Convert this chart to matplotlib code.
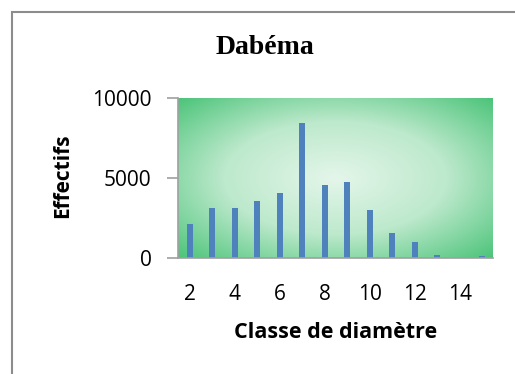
import numpy as np
import matplotlib.pyplot as plt
from matplotlib.colors import LinearSegmentedColormap
from matplotlib.patches import Rectangle

classes = [2, 3, 4, 5, 6, 7, 8, 9, 10, 11, 12, 13, 14, 15]
effectifs = [2120, 3100, 3100, 3560, 4040, 8460, 4540, 4770, 3000, 1560, 1000, 200, 0, 120]
xticks = [2, 4, 6, 8, 10, 12, 14]
yticks = [0, 5000, 10000]

W, H = 515, 374
fig = plt.figure(figsize=(W / 100, H / 100), dpi=100)
fig.patch.set_facecolor('white')

# outer chart border (only top/left visible in the crop)
fig.add_artist(Rectangle((12 / W, -0.1), 1.2, 1 - 12 / H + 0.1, transform=fig.transFigure,
                         fill=False, edgecolor='#8c8c8c', linewidth=1.5))

ax = fig.add_axes([178 / W, 1 - 258 / H, (493 - 178) / W, (258 - 98) / H])

# radial gradient background
gx, gy = np.meshgrid(np.linspace(-1, 1, 300), np.linspace(-1, 1, 200))
r = np.sqrt(gx ** 2 + gy ** 2) / np.sqrt(2)
cmap = LinearSegmentedColormap.from_list('g', ['#e4f6ea', '#bde9cc', '#4cc47a'])
ax.imshow(r, cmap=cmap, extent=[0, 1, 0, 1], transform=ax.transAxes,
          aspect='auto', zorder=0, vmin=0, vmax=1)

ax.bar(classes, effectifs, width=0.27, color='#4f81bd', zorder=2)

ax.set_xlim(1.47, 15.47)
ax.set_ylim(0, 10000)
ax.set_xticks(xticks)
ax.set_yticks(yticks)

for s in ['top', 'right']:
    ax.spines[s].set_visible(False)
ax.spines['left'].set_color('#a0a0a0')
ax.spines['bottom'].set_color('#a0a0a0')
ax.spines['left'].set_linewidth(1.2)
ax.spines['bottom'].set_linewidth(1.2)
ax.tick_params(axis='y', length=8, color='#a0a0a0', width=1.2, pad=11,
               labelsize=15)
ax.tick_params(axis='x', length=0, pad=26, labelsize=15)
for lab in ax.get_xticklabels() + ax.get_yticklabels():
    lab.set_fontfamily('Open Sans')
for lab in ax.get_xticklabels():
    lab.set_va('center')

fig.text(265 / W, 1 - 47 / H, 'Dabéma', ha='center', va='center',
         fontsize=20, fontweight='bold', family='Liberation Serif')
fig.text(63 / W, 1 - 176 / H, 'Effectifs', ha='center', va='center',
         rotation=90, fontsize=15, fontweight='bold', family='Open Sans')
fig.text(336 / W, 1 - 333 / H, 'Classe de diamètre', ha='center', va='center',
         fontsize=15.5, fontweight='bold', family='Open Sans')

fig.savefig('out.png', dpi=100)
